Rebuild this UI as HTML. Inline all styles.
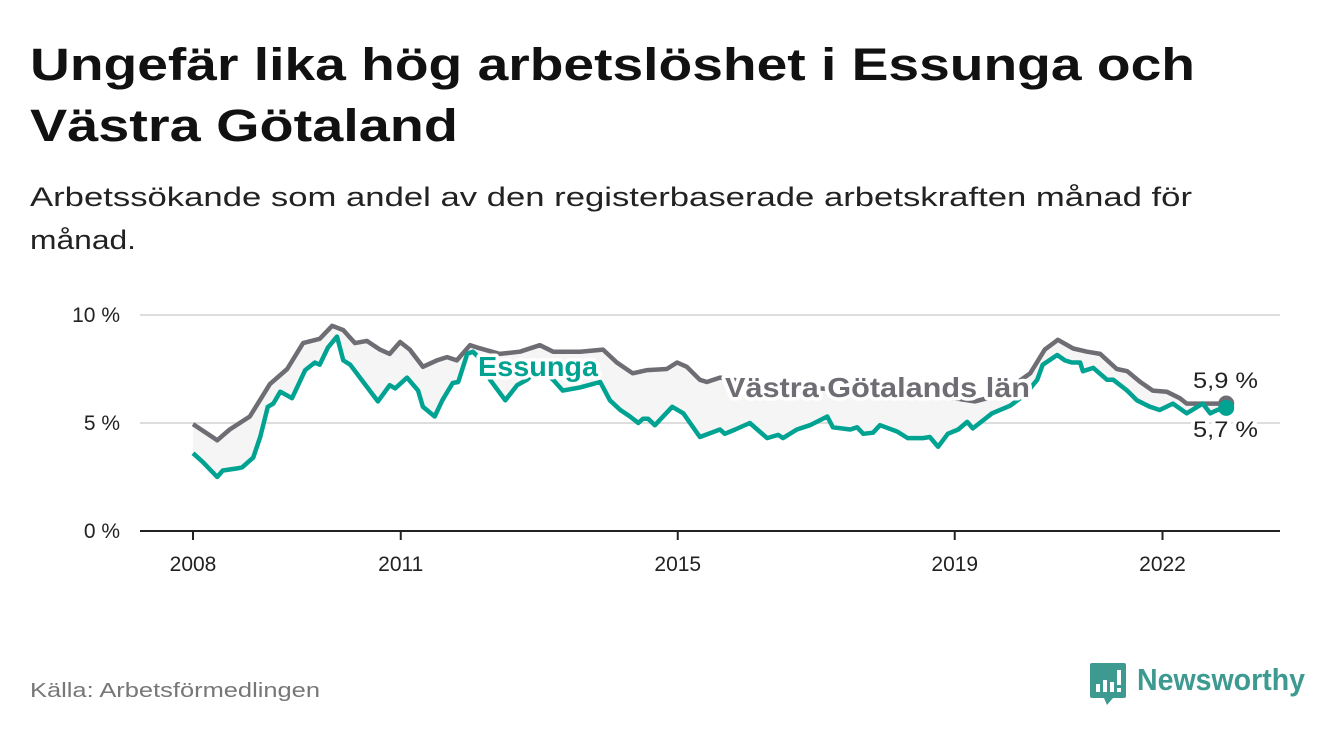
<!DOCTYPE html>
<html><head><meta charset="utf-8"><style>
body{margin:0;width:1340px;height:734px;background:#fff;overflow:hidden;font-family:"Liberation Sans",sans-serif;}
svg{position:absolute;left:0;top:0}
</style></head><body>
<svg width="1340" height="734">
<text x="30" y="80" font-size="45" font-weight="bold" fill="#111" textLength="1165" lengthAdjust="spacingAndGlyphs">Ungefär lika hög arbetslöshet i Essunga och</text>
<text x="30" y="141" font-size="45" font-weight="bold" fill="#111" textLength="428" lengthAdjust="spacingAndGlyphs">Västra Götaland</text>
<text x="30" y="206" font-size="27" fill="#222" textLength="1162" lengthAdjust="spacingAndGlyphs">Arbetssökande som andel av den registerbaserade arbetskraften månad för</text>
<text x="30" y="249" font-size="27" fill="#222" textLength="106" lengthAdjust="spacingAndGlyphs">månad.</text>
<g id="grid"></g>
<g id="plot"></g>
<text x="30" y="697" font-size="20" fill="#777" textLength="290" lengthAdjust="spacingAndGlyphs">Källa: Arbetsförmedlingen</text>
<g>
<path d="M1092 663 h32 a2 2 0 0 1 2 2 v31 a2 2 0 0 1 -2 2 h-11 l-6 7 l-3 -7 h-12 a2 2 0 0 1 -2 -2 v-31 a2 2 0 0 1 2 -2z" fill="#3d9a90"/>
<rect x="1096" y="684" width="4" height="8" fill="#fff"/><rect x="1103" y="680" width="4" height="12" fill="#fff"/><rect x="1110" y="682" width="4" height="10" fill="#fff"/><rect x="1117" y="670" width="4" height="15" fill="#fff"/><rect x="1117" y="688" width="4" height="4" fill="#fff"/>
<text x="1137" y="690" font-size="31" font-weight="bold" fill="#3d9a90" textLength="168" lengthAdjust="spacingAndGlyphs">Newsworthy</text>
</g>
</svg>
<script>
const yTicks=[0,5,10];
const yTickLabels=["0 %","5 %","10 %"];
const xTicks=[2008,2011,2015,2019,2022];
const essungaT=[0,0.14,0.35,0.43,0.64,0.71,0.87,0.97,1.08,1.16,1.26,1.43,1.62,1.76,1.83,1.95,2.08,2.17,2.27,2.67,2.84,2.92,3.09,3.25,3.32,3.49,3.60,3.75,3.83,3.96,4.04,4.14,4.29,4.51,4.68,4.82,5.01,5.20,5.34,5.59,5.88,6.02,6.17,6.31,6.43,6.50,6.57,6.67,6.92,7.08,7.32,7.61,7.68,7.83,8.04,8.29,8.45,8.52,8.72,8.91,9.16,9.24,9.49,9.59,9.68,9.82,9.92,10.17,10.32,10.54,10.64,10.76,10.90,11.05,11.18,11.26,11.36,11.54,11.80,12.01,12.19,12.27,12.48,12.59,12.69,12.81,12.85,13.00,13.20,13.29,13.49,13.63,13.82,13.96,14.15,14.35,14.58,14.69,14.79,14.92];
const essungaV=[3.6,3.2,2.5,2.8,2.9,2.95,3.4,4.35,5.75,5.9,6.45,6.15,7.45,7.8,7.7,8.5,9.0,7.9,7.7,6.0,6.75,6.6,7.1,6.5,5.75,5.3,6.05,6.85,6.9,8.2,8.3,8.0,7.0,6.05,6.75,7.0,7.55,7.0,6.5,6.65,6.9,6.05,5.6,5.3,5.0,5.2,5.2,4.9,5.75,5.45,4.35,4.7,4.5,4.7,5.0,4.3,4.45,4.3,4.7,4.9,5.3,4.8,4.7,4.8,4.5,4.55,4.9,4.6,4.3,4.3,4.35,3.9,4.5,4.7,5.05,4.75,5.0,5.45,5.8,6.3,7.0,7.7,8.15,7.9,7.8,7.8,7.4,7.55,7.0,7.0,6.5,6.05,5.75,5.6,5.9,5.45,5.9,5.45,5.6,5.7];
const vgT=[0,0.35,0.53,0.82,1.11,1.36,1.59,1.83,2.01,2.17,2.34,2.51,2.70,2.84,2.99,3.13,3.32,3.52,3.67,3.81,4.00,4.10,4.43,4.72,5.01,5.20,5.59,5.92,6.12,6.35,6.56,6.84,6.99,7.13,7.32,7.42,7.61,8.19,9.05,9.92,10.79,11.29,11.65,12.09,12.30,12.49,12.71,12.91,13.10,13.34,13.49,13.68,13.86,14.06,14.25,14.35,14.92];
const vgV=[4.95,4.2,4.7,5.3,6.8,7.5,8.7,8.9,9.5,9.3,8.7,8.8,8.4,8.2,8.75,8.4,7.6,7.9,8.05,7.9,8.6,8.5,8.2,8.3,8.6,8.3,8.3,8.4,7.8,7.3,7.45,7.5,7.8,7.6,7.0,6.9,7.1,6.8,6.6,6.4,6.25,6.0,6.3,7.3,8.4,8.85,8.45,8.3,8.2,7.5,7.4,6.9,6.5,6.45,6.15,5.9,5.9];
const NS='http://www.w3.org/2000/svg';
const X=t=>193+t*69.25, Xy=y=>193+(y-2008)*69.25, Y=v=>531-v*21.6;
function mk(tag,attrs,parent){const e=document.createElementNS(NS,tag);for(const k in attrs)e.setAttribute(k,attrs[k]);parent.appendChild(e);return e;}
const grid=document.getElementById('grid'), plot=document.getElementById('plot');
yTicks.forEach((v,i)=>{
 if(v>0){const l=mk('line',{x1:140,x2:1280,y1:Y(v),y2:Y(v),stroke:'#ddd','stroke-width':2},grid);
 
 }
 const t=mk('text',{x:120,y:Y(v)+7,'font-size':21,fill:'#222','text-anchor':'end'},grid);t.textContent=yTickLabels[i];
 
 
});
const ax=mk('line',{x1:140,x2:1280,y1:531,y2:531,stroke:'#222','stroke-width':2},grid);


xTicks.forEach(y=>{
 const tk=mk('line',{x1:Xy(y),x2:Xy(y),y1:531,y2:540,stroke:'#222','stroke-width':2},grid);
 
 
 const t=mk('text',{x:Xy(y),y:571,'font-size':21,fill:'#222','text-anchor':'middle'},grid);t.textContent=y;
 
 
});
const pts=(T,V)=>T.map((t,i)=>X(t).toFixed(1)+','+Y(V[i]).toFixed(1));
const fillPts=pts(vgT,vgV).concat(pts(essungaT,essungaV).reverse());
const area=mk('polygon',{points:fillPts.join(' '),fill:'#f5f5f5'},plot);


const gl=mk('polyline',{points:pts(vgT,vgV).join(' '),fill:'none',stroke:'#6e6d73','stroke-width':4.5,'stroke-linejoin':'round'},plot);


const el=mk('polyline',{points:pts(essungaT,essungaV).join(' '),fill:'none',stroke:'#00a292','stroke-width':4.5,'stroke-linejoin':'round'},plot);


const gd=mk('circle',{cx:X(vgT[vgT.length-1]),cy:Y(vgV[vgV.length-1]),r:8,fill:'#6e6d73'},plot);


const ed=mk('circle',{cx:X(essungaT[essungaT.length-1]),cy:Y(essungaV[essungaV.length-1]),r:8,fill:'#00a292'},plot);


function lab(x,y,txt,fill,size,bold,w,name){
 const t=mk('text',{x:x,y:y,'font-size':size,'font-weight':bold?'bold':'normal',fill:fill,stroke:'#fff','stroke-width':7,'paint-order':'stroke','stroke-linejoin':'round',textLength:w,lengthAdjust:'spacingAndGlyphs'},plot);
 t.textContent=txt;
 
 
}
lab(478,376,'Essunga','#00a292',28,true,120,'essunga-label');
lab(725,397,'Västra Götalands län','#6e6d73',28,true,305,'vastra-gotaland-label');
lab(1193,388,'5,9 %','#222',22,false,65,'vastra-gotaland-end-value');
lab(1193,437,'5,7 %','#222',22,false,65,'essunga-end-value');
</script>
</body></html>
